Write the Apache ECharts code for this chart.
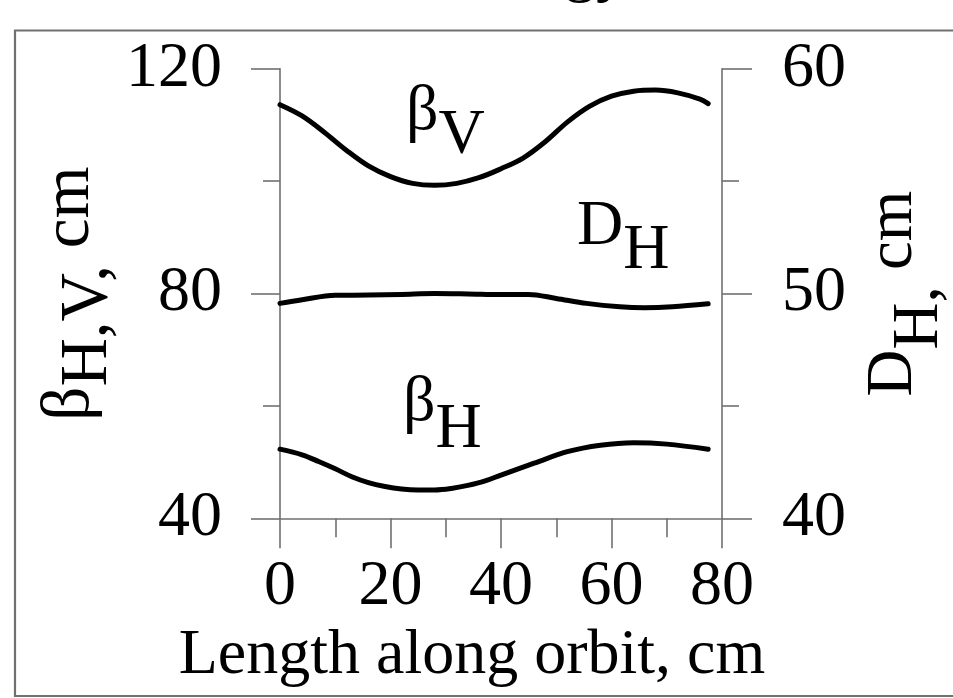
<!DOCTYPE html>
<html>
<head>
<meta charset="utf-8">
<script src="https://cdn.jsdelivr.net/npm/echarts@6/dist/echarts.min.js"></script>
<style>
  html, body { margin: 0; padding: 0; background: #ffffff; }
  #chart { width: 953px; height: 698px; }
</style>
</head>
<body>
<div id="chart"></div>
<script>
// Lattice functions along the orbit (positions in cm)
const betaVPos = [0, 4, 8, 12, 16, 20, 24, 28, 32, 36, 40, 44, 48, 52, 56, 60, 64, 68, 72, 76, 77.5];
const betaV    = [113.6, 111.6, 108.7, 105.5, 102.7, 100.8, 99.6, 99.25, 99.6, 100.6, 102.2, 104.1, 107.0, 110.5, 113.3, 115.1, 116.0, 116.2, 115.7, 114.6, 113.8];

const betaHPos = [0, 4, 7, 10, 13, 16, 19, 22, 25, 28, 31, 34, 37, 40, 46, 52, 58, 64, 70, 77.5];
const betaH    = [52.3, 51.3, 50.1, 48.8, 47.4, 46.35, 45.65, 45.2, 45.03, 45.03, 45.3, 45.85, 46.6, 47.7, 49.8, 51.85, 53.0, 53.45, 53.2, 52.3];

const dispHPos = [0, 4, 10, 16, 22, 28, 34, 40, 45, 50, 55.5, 61.5, 66, 71, 77.5];
const dispH    = [49.56, 49.72, 49.92, 49.93, 49.96, 50.0, 49.98, 49.95, 49.96, 49.78, 49.56, 49.41, 49.37, 49.41, 49.54];

// Axis ranges and tick spacing
const lengthRange = [0, 80, 20];
const betaRange   = [40, 120, 40];
const dispRange   = [40, 60, 10];

const SERIF = "'Liberation Serif', 'Times New Roman', serif";
const AXIS_GREY = '#707070';
const FS = 64;

function pairs(xs, ys) { return xs.map((x, i) => [x, ys[i]]); }

const axisLineStyle = { color: AXIS_GREY, width: 1.6 };
const labelStyle = { fontSize: FS, fontFamily: SERIF, color: '#000' };

// rich styles: same-size subscript shifted downward
function richSet(shift, size) {
  const fs = size || FS;
  return {
    b: { fontSize: fs, fontFamily: SERIF, color: '#000', fill: '#000', lineHeight: fs, verticalAlign: 'top' },
    s: { fontSize: fs, fontFamily: SERIF, color: '#000', fill: '#000', lineHeight: fs, verticalAlign: 'top', padding: [shift, 0, 0, 0] }
  };
}

const chart = echarts.init(document.getElementById('chart'), null, { renderer: 'canvas' });

function curve(name, xs, ys, axisIndex) {
  return {
    name: name,
    type: 'line',
    yAxisIndex: axisIndex,
    data: pairs(xs, ys),
    symbol: 'none',
    showSymbol: false,
    smooth: 0.35,
    clip: false,
    lineStyle: { color: '#000', width: 5, cap: 'round', join: 'round' },
    emphasis: { disabled: true }
  };
}

function plotLabel(main, sub, left, top, shift) {
  return {
    type: 'text',
    x: left,
    y: top,
    silent: true,
    style: {
      text: '{b|' + main + '}{s|' + sub + '}',
      rich: richSet(shift),
      fill: '#000',
      align: 'left',
      verticalAlign: 'top'
    }
  };
}

const option = {
  animation: false,
  backgroundColor: '#ffffff',
  grid: { left: 280, right: 226.3, top: 68.7, bottom: 179.7, containLabel: false },
  xAxis: {
    type: 'value',
    min: lengthRange[0], max: lengthRange[1], interval: lengthRange[2],
    axisLine: { show: true, onZero: false, lineStyle: axisLineStyle },
    axisTick: { show: true, length: 30, inside: false, lineStyle: axisLineStyle },
    minorTick: { show: true, splitNumber: 2, length: 19, lineStyle: axisLineStyle },
    splitLine: { show: false },
    minorSplitLine: { show: false },
    axisLabel: Object.assign({ margin: 37 }, labelStyle),
    name: 'Length along orbit, cm',
    nameLocation: 'middle',
    nameGap: 101,
    nameTextStyle: Object.assign({ padding: [0, 58, 0, 0] }, labelStyle)
  },
  yAxis: [
    {
      type: 'value',
      position: 'left',
      min: betaRange[0], max: betaRange[1], interval: betaRange[2],
      axisLine: { show: true, onZero: false, lineStyle: axisLineStyle },
      axisTick: { show: true, length: 29, inside: false, lineStyle: axisLineStyle },
      minorTick: { show: true, splitNumber: 2, length: 17, lineStyle: axisLineStyle },
      splitLine: { show: false },
      minorSplitLine: { show: false },
      axisLabel: Object.assign({ margin: 58 }, labelStyle),
      name: '{b|β}{s|H,V,}{b| cm}',
      nameLocation: 'middle',
      nameRotate: 90,
      nameGap: 168,
      nameTextStyle: { rich: richSet(18, 67) }
    },
    {
      type: 'value',
      position: 'right',
      min: dispRange[0], max: dispRange[1], interval: dispRange[2],
      axisLine: { show: true, onZero: false, lineStyle: axisLineStyle },
      axisTick: { show: true, length: 30, inside: false, lineStyle: axisLineStyle },
      minorTick: { show: true, splitNumber: 2, length: 17, lineStyle: axisLineStyle },
      splitLine: { show: false },
      minorSplitLine: { show: false },
      axisLabel: Object.assign({ margin: 60 }, labelStyle),
      name: '{b|D}{s|H,}{b| cm}',
      nameLocation: 'middle',
      nameRotate: 90,
      nameGap: 139,
      nameTextStyle: { rich: richSet(26, 65) }
    }
  ],
  series: [
    curve('βV', betaVPos, betaV, 0),
    curve('βH', betaHPos, betaH, 0),
    curve('DH', dispHPos, dispH, 1)
  ],
  graphic: [
    // outer frame
    {
      type: 'rect', silent: true, z: -10,
      shape: { x: 15, y: 30.5, width: 1000, height: 665.5 },
      style: { fill: 'none', stroke: AXIS_GREY, lineWidth: 2.2 }
    },
    // heading above the frame
    {
      type: 'text', silent: true, x: 628, y: 4,
      style: { text: 'Energy', fontSize: FS, fontFamily: SERIF, fill: '#000', align: 'right', verticalAlign: 'bottom' }
    },
    plotLabel('β', 'V', 406, 80, 24),
    plotLabel('β', 'H', 403, 371, 27),
    plotLabel('D', 'H', 577, 195, 24)
  ]
};

chart.setOption(option);
</script>
</body>
</html>
